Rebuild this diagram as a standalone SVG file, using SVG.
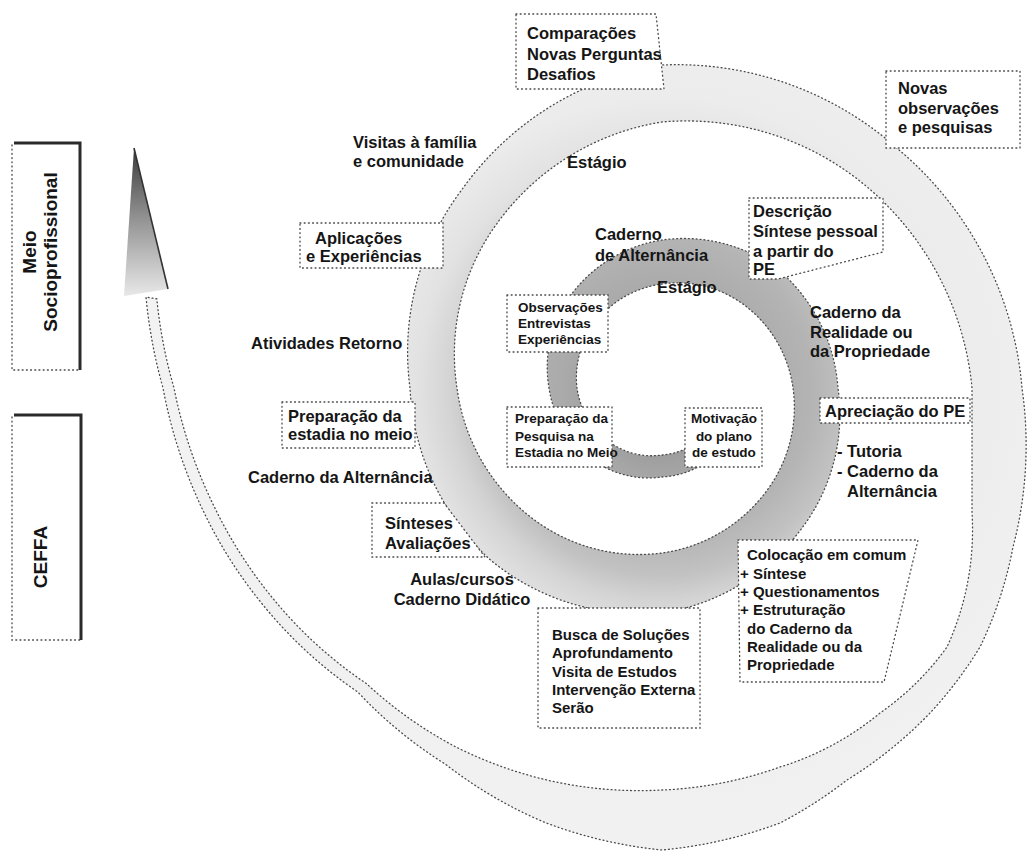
<svg xmlns="http://www.w3.org/2000/svg" width="1028" height="854" viewBox="0 0 1028 854">
<style>
  text { font-family: "Liberation Sans", Arial, sans-serif; font-weight: bold; fill: #151515; }
  .t16 { font-size: 16.5px; }
  .t15 { font-size: 15px; }
  .t13 { font-size: 13.5px; }
  .t19 { font-size: 19px; }
  .mid { text-anchor: middle; }
  .box { fill: #ffffff; stroke: #484848; stroke-width: 1.3; stroke-dasharray: 0.9 3.3; stroke-linecap: round; }
  .dot { fill: none; stroke: #484848; stroke-width: 1.3; stroke-dasharray: 0.9 3.3; stroke-linecap: round; }
  .edge { fill: none; stroke: #4a4a4a; stroke-width: 1.3; stroke-dasharray: 0.9 3; stroke-linecap: round; }
  .thick { fill: none; stroke: #2a2a2a; stroke-width: 3; }
</style>
<defs>
  <radialGradient id="bandGrad" gradientUnits="userSpaceOnUse" cx="662" cy="388" r="520">
    <stop offset="0.11" stop-color="#9a9a9a"/>
    <stop offset="0.19" stop-color="#aaaaaa"/>
    <stop offset="0.29" stop-color="#b4b4b4"/>
    <stop offset="0.36" stop-color="#c2c2c2"/>
    <stop offset="0.41" stop-color="#d4d4d4"/>
    <stop offset="0.47" stop-color="#e2e2e2"/>
    <stop offset="0.56" stop-color="#ececec"/>
    <stop offset="0.77" stop-color="#f0f0f0"/>
    <stop offset="1" stop-color="#f3f3f3"/>
  </radialGradient>
  <linearGradient id="arrowGrad" gradientUnits="userSpaceOnUse" x1="0" y1="148" x2="0" y2="296">
    <stop offset="0" stop-color="#3a3a3a"/>
    <stop offset="0.45" stop-color="#8e8e8e"/>
    <stop offset="1" stop-color="#e8e8e8"/>
  </linearGradient>
  <path id="bandShape" d="M698.7,440.4 A66,66 0 0 1 662,455 A72,72 0 0 1 608.6,441.4 A81,81 0 0 1 577,388 A90,90 0 0 1 595.8,321.8 A100,100 0 0 1 662,284 A111,111 0 0 1 744.7,305.3 A125,125 0 0 1 793,388 A140,140 0 0 1 765.9,491.9 A157,157 0 0 1 662,553 A176,176 0 0 1 531.9,518.1 A196,196 0 0 1 457,388 A221,221 0 0 1 497.2,223.2 A252,252 0 0 1 662,122 A280,280 0 0 1 864.9,185.1 A300,300 0 0 1 972,388 L972,513 A280,280 0 0 1 947,647 A280,280 0 0 1 880,713 A290,290 0 0 1 780,767 A400,400 0 0 1 662,790 A410,410 0 0 1 556.4,782.1 A415,415 0 0 1 455,746.5 A420,420 0 0 1 366.4,683.6 A430,430 0 0 1 281,608 A455,455 0 0 1 214.8,507.8 A478,478 0 0 1 174,388 A500,500 0 0 1 156.8,298.9 L146,297 A512,512 0 0 0 163,388 A490,490 0 0 0 203.2,510.9 A465,465 0 0 0 270.6,614 A443,443 0 0 0 357.9,692.1 A434,434 0 0 0 445,763.9 A445,445 0 0 0 545.5,822.7 A458,458 0 0 0 662,850 A460,460 0 0 0 780,823 A440,440 0 0 0 847,780 A420,420 0 0 0 930,713 A410,410 0 0 0 980,647 A400,400 0 0 0 1013,547 A400,400 0 0 0 1022,388 A350,350 0 0 0 899.6,150.4 A332,332 0 0 0 662,65 A305,305 0 0 0 462.6,188.6 A270,270 0 0 0 410,388 A250,250 0 0 0 490.2,559.8 A236,236 0 0 0 662,613 A214,214 0 0 0 802,528 A189,189 0 0 0 838,388 A172,172 0 0 0 779.4,270.6 A158,158 0 0 0 662,240 A140,140 0 0 0 570.1,296.1 A122,122 0 0 0 549,388 A107,107 0 0 0 591.3,458.7 A95,95 0 0 0 662,477 A88,88 0 0 0 711.3,458.4 Z"/>
</defs>

<rect x="0" y="0" width="1028" height="854" fill="#ffffff"/>

<g id="connectors">
  <use href="#bandShape" fill="url(#bandGrad)"/>
  <use href="#bandShape" class="edge"/>
  <g id="arrowhead">
    <polygon points="134,148 124,296 168,289" fill="url(#arrowGrad)"/>
    <line x1="134" y1="148" x2="168" y2="289" stroke="#333333" stroke-width="1.6"/>
  </g>
</g>

<g id="meio">
  <path class="dot" d="M12,145 L12,370 L80,370"/>
  <path class="thick" d="M14,143 L80,143 L80,370"/>
  <text class="t19 mid" transform="translate(36,252) rotate(-90)">Meio</text>
  <text class="t19 mid" transform="translate(57,252) rotate(-90)">Socioprofissional</text>
</g>

<g id="ceffa">
  <path class="dot" d="M12,417 L12,640 L80,640"/>
  <path class="thick" d="M14,415 L81,415 L81,640"/>
  <text class="t19 mid" transform="translate(47,557) rotate(-90)">CEFFA</text>
</g>

<g id="comparacoes">
  <polygon class="box" points="516,14 656,14 664,89 516,89"/>
  <text class="t16" x="527" y="38.5">Comparações</text>
  <text class="t16" x="527" y="59.5">Novas Perguntas</text>
  <text class="t16" x="527" y="80">Desafios</text>
</g>

<g id="novas">
  <rect class="box" x="886" y="71" width="134" height="77"/>
  <text class="t16" x="898" y="94">Novas</text>
  <text class="t16" x="898" y="113.5">observações</text>
  <text class="t16" x="898" y="133">e pesquisas</text>
</g>

<g id="visitas">
  <text class="t16" x="353" y="148">Visitas à família</text>
  <text class="t16" x="353" y="167">e comunidade</text>
</g>

<g id="estagio-externo">
  <text class="t16" x="567" y="168">Estágio</text>
</g>

<g id="aplicacoes">
  <rect class="box" x="300" y="223" width="143" height="45"/>
  <text class="t16" x="315" y="244">Aplicações</text>
  <text class="t16" x="306" y="262">e Experiências</text>
</g>

<g id="atividades">
  <text class="t16" x="251" y="349">Atividades Retorno</text>
</g>

<g id="preparacao-estadia">
  <rect class="box" x="282" y="402" width="133" height="46"/>
  <text class="t16" x="288" y="421.5">Preparação da</text>
  <text class="t16" x="288" y="440">estadia no meio</text>
</g>

<g id="caderno-alternancia-ceffa">
  <text class="t16" x="248" y="483">Caderno da Alternância</text>
</g>

<g id="sinteses">
  <polygon class="box" points="372,503 444,503 485,557 372,557"/>
  <text class="t16" x="385" y="529">Sínteses</text>
  <text class="t16" x="385" y="549">Avaliações</text>
</g>

<g id="aulas">
  <text class="t16 mid" x="462" y="585">Aulas/cursos</text>
  <text class="t16 mid" x="462" y="605">Caderno Didático</text>
</g>

<g id="busca">
  <rect class="box" x="538" y="608" width="162" height="120"/>
  <text class="t15" x="552" y="640">Busca de Soluções</text>
  <text class="t15" x="552" y="658.3">Aprofundamento</text>
  <text class="t15" x="552" y="676.6">Visita de Estudos</text>
  <text class="t15" x="552" y="695">Intervenção Externa</text>
  <text class="t15" x="552" y="713">Serão</text>
</g>

<g id="colocacao">
  <polygon class="box" points="738,540 918,540 884,682 740,682"/>
  <text class="t15" x="747" y="560">Colocação em comum</text>
  <text class="t15" x="740" y="578.5">+ Síntese</text>
  <text class="t15" x="740" y="597">+ Questionamentos</text>
  <text class="t15" x="740" y="615">+ Estruturação</text>
  <text class="t15" x="747" y="633.5">do Caderno da</text>
  <text class="t15" x="747" y="652">Realidade ou da</text>
  <text class="t15" x="747" y="670">Propriedade</text>
</g>

<g id="apreciacao">
  <rect class="box" x="820" y="398" width="150" height="25"/>
  <text class="t16" x="825" y="417">Apreciação do PE</text>
</g>

<g id="tutoria">
  <text class="t16" x="837" y="457">- Tutoria</text>
  <text class="t16" x="837" y="477">- Caderno da</text>
  <text class="t16" x="847" y="497">Alternância</text>
</g>

<g id="caderno-realidade">
  <text class="t16" x="810" y="318">Caderno da</text>
  <text class="t16" x="810" y="338">Realidade ou</text>
  <text class="t16" x="810" y="357">da Propriedade</text>
</g>

<g id="descricao">
  <polygon class="box" points="749,198 883,198 883,252 778,279 749,279"/>
  <text class="t16" x="753" y="217">Descrição</text>
  <text class="t16" x="753" y="237">Síntese pessoal</text>
  <text class="t16" x="753" y="257">a partir do</text>
  <text class="t16" x="753" y="275">PE</text>
</g>

<g id="caderno-alternancia-estagio">
  <text class="t16" x="595" y="240">Caderno</text>
  <text class="t16" x="595" y="261">de Alternância</text>
</g>

<g id="estagio-interno">
  <text class="t16" x="657" y="293">Estágio</text>
</g>

<g id="observacoes">
  <rect class="box" x="507" y="295" width="101" height="57"/>
  <text class="t13" x="518" y="312">Observações</text>
  <text class="t13" x="518" y="328">Entrevistas</text>
  <text class="t13" x="518" y="344">Experiências</text>
</g>

<g id="preparacao-pesquisa">
  <rect class="box" x="507" y="407" width="105" height="60"/>
  <text class="t13" x="515" y="423">Preparação da</text>
  <text class="t13" x="515" y="441">Pesquisa na</text>
  <text class="t13" x="515" y="457">Estadia no Meio</text>
</g>

<g id="motivacao">
  <rect class="box" x="685" y="408" width="77" height="59"/>
  <text class="t13 mid" x="724" y="423">Motivação</text>
  <text class="t13 mid" x="724" y="441">do plano</text>
  <text class="t13 mid" x="724" y="457">de estudo</text>
</g>
</svg>
